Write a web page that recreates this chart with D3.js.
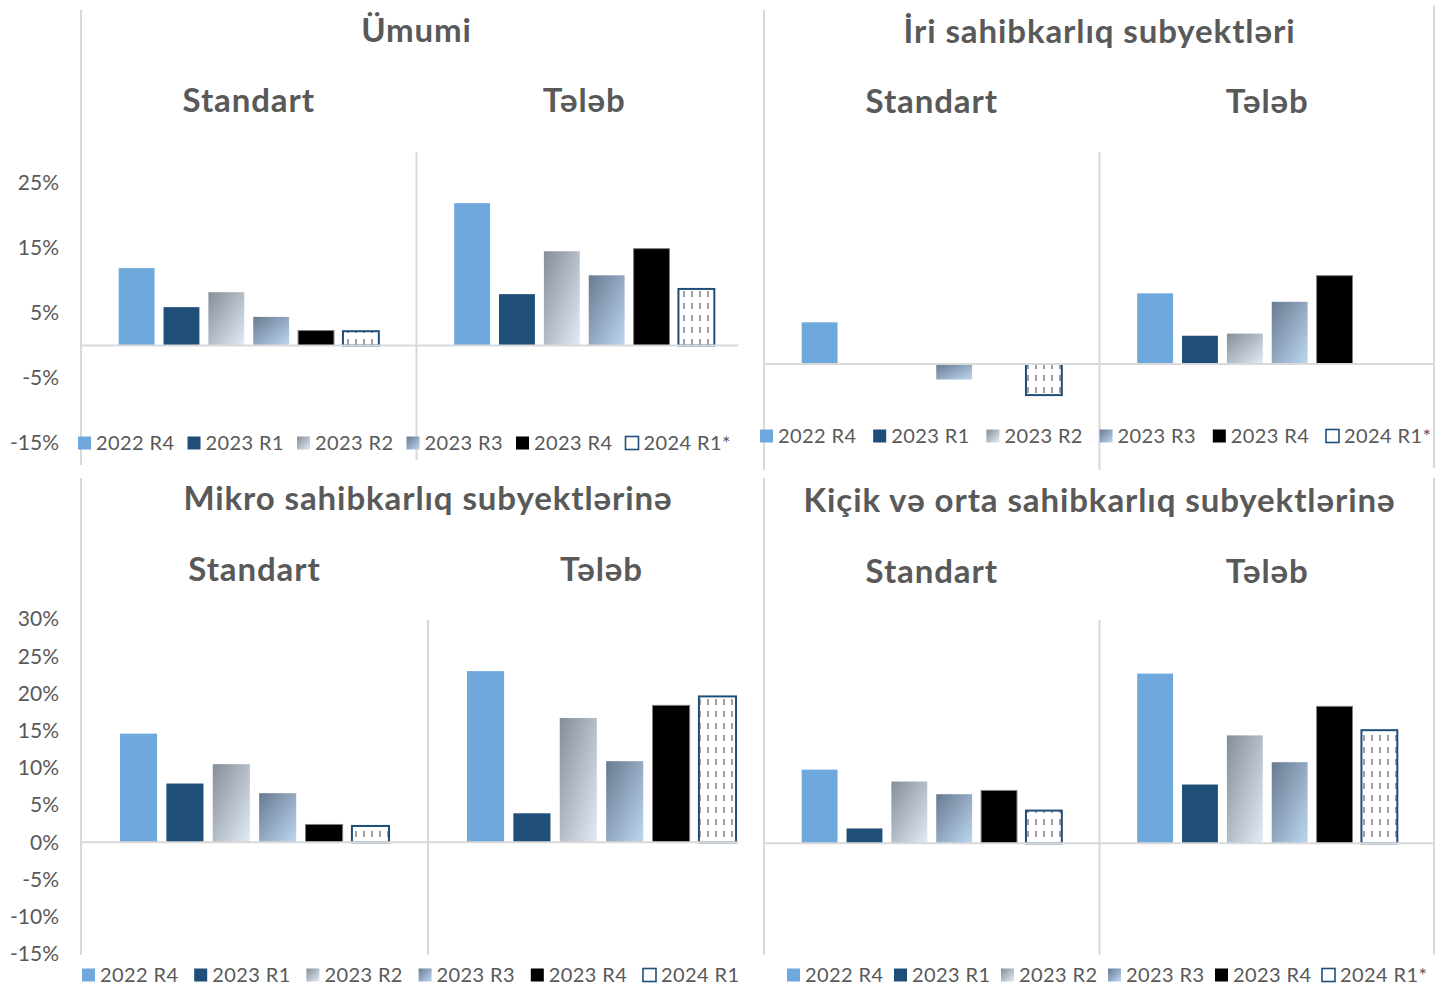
<!DOCTYPE html>
<html>
<head>
<meta charset="utf-8">
<script src="https://cdn.jsdelivr.net/npm/d3@7"></script>
<style>
  body { margin: 0; background: #fff; }
  svg { display: block; font-family: Lato, "Open Sans", "Noto Sans", sans-serif; }
  .title { font-weight: bold; fill: #595959; font-size: 33px; letter-spacing: 0.9px; }
  .tick { fill: #595959; font-size: 21px; }
  .leg { fill: #595959; font-size: 20px; letter-spacing: 0.4px; }
</style>
</head>
<body>
<div id="chart"></div>
<script>
'use strict';

// series and categories
const series = ['2022 R4', '2023 R1', '2023 R2', '2023 R3', '2023 R4', '2024 R1*'];
const seriesMikro = ['2022 R4', '2023 R1', '2023 R2', '2023 R3', '2023 R4', '2024 R1'];
const groups = ['Standart', 'Tələb'];
const titles = ['Ümumi', 'İri sahibkarlıq subyektləri', 'Mikro sahibkarlıq subyektlərinə', 'Kiçik və orta sahibkarlıq subyektlərinə'];

// tick labels (only the left panels show them)
const ticksTop = [-15, -5, 5, 15, 25];
const ticksBottom = [-15, -10, -5, 0, 5, 10, 15, 20, 25, 30];

// values in %
const umumiStandart = [11.9, 5.9, 8.2, 4.4, 2.3, 2.2];
const umumiTeleb = [21.9, 7.9, 14.5, 10.8, 14.9, 8.7];
const iriStandart = [5.9, 0, 0, -2.2, 0, -4.4];
const iriTeleb = [10.0, 4.0, 4.3, 8.8, 12.5, 0];
const mikroStandart = [14.6, 7.9, 10.5, 6.6, 2.4, 2.2];
const mikroTeleb = [23.0, 3.9, 16.7, 10.9, 18.4, 19.6];
const kicikStandart = [9.9, 2.0, 8.3, 6.6, 7.1, 4.4];
const kicikTeleb = [22.8, 7.9, 14.5, 10.9, 18.4, 15.2];

const W = 1449, H = 985;
const grid = '#d9d9d9';

const svg = d3.select('#chart').append('svg')
    .attr('width', W)
    .attr('height', H);

// fills
const defs = svg.append('defs');
function grad(id, c1, c2) {
    let g = defs.append('linearGradient').attr('id', id)
        .attr('x1', 0).attr('y1', 0).attr('x2', 1).attr('y2', 1);
    g.append('stop').attr('offset', '0%').attr('stop-color', c1);
    g.append('stop').attr('offset', '100%').attr('stop-color', c2);
}
grad('g2', '#858e98', '#e2ecf6');
grad('g3', '#687a90', '#bdd7f1');

// dashed vertical hatch for 2024 R1
let pat = defs.append('pattern').attr('id', 'dash')
    .attr('patternUnits', 'userSpaceOnUse')
    .attr('width', 8).attr('height', 12);
pat.append('rect').attr('width', 8).attr('height', 12).attr('fill', '#fff');
pat.append('line').attr('x1', 4).attr('x2', 4).attr('y1', 3).attr('y2', 9)
    .attr('stroke', '#a0a0a0').attr('stroke-width', 2);

const fills = ['#6fa8dc', '#1f4e79', 'url(#g2)', 'url(#g3)', '#000', 'url(#dash)'];
const strokes = ['none', 'none', 'none', 'none', '#7f7f7f', '#1f4e79'];
const strokeW = [0, 0, 0, 0, 1, 2];

// panel layout
const panels = [
    { title: titles[0], data: [umumiStandart, umumiTeleb], names: series,
      x: [81, 752], y: [443, 150.5], cut: 738, ticks: ticksTop,
      titleY: 42, subY: 112, axisTop: 10, axisBot: 465, sepTop: 152, sepBot: 460, right: false,
      legY: 443, legX: 77, legStep: 109.5 },
    { title: titles[1], data: [iriStandart, iriTeleb], names: series,
      x: [764, 1435], y: [470, 152], cut: 1434, ticks: null,
      titleY: 43, subY: 113, axisTop: 10, axisBot: 470, sepTop: 152, sepBot: 470, right: [5, 468],
      legY: 436, legX: 759, legStep: 113.2 },
    { title: titles[2], data: [mikroStandart, mikroTeleb], names: seriesMikro,
      x: [81, 775], y: [954, 619], cut: 738, ticks: ticksBottom,
      titleY: 510, subY: 581, axisTop: 478, axisBot: 955, sepTop: 620, sepBot: 955, right: false,
      legY: 975, legX: 81, legStep: 112.2 },
    { title: titles[3], data: [kicikStandart, kicikTeleb], names: series,
      x: [764, 1435], y: [955, 620], cut: 1434, ticks: null,
      titleY: 512, subY: 583, axisTop: 478, axisBot: 955, sepTop: 620, sepBot: 955, right: [478, 955],
      legY: 975, legX: 786, legStep: 107 }
];

panels.forEach(drawPanel);

function drawPanel(p) {
    let g = svg.append('g');

    let x0 = d3.scaleBand().domain(groups).range(p.x);
    let x1 = d3.scaleBand().domain(d3.range(series.length))
        .range([0, x0.bandwidth()])
        .paddingInner(0.2)
        .paddingOuter(0.84);
    let y = d3.scaleLinear().domain([-15, 30]).range(p.y);

    // vertical lines
    g.append('line')
        .attr('x1', p.x[0]).attr('x2', p.x[0])
        .attr('y1', p.axisTop).attr('y2', p.axisBot)
        .attr('stroke', grid).attr('stroke-width', 2);
    g.append('line')
        .attr('x1', x0('Tələb')).attr('x2', x0('Tələb'))
        .attr('y1', p.sepTop).attr('y2', p.sepBot)
        .attr('stroke', grid).attr('stroke-width', 2);
    if (p.right) {
        g.append('line')
            .attr('x1', p.cut).attr('x2', p.cut)
            .attr('y1', p.right[0]).attr('y2', p.right[1])
            .attr('stroke', grid).attr('stroke-width', 2);
    }

    // tick labels
    if (p.ticks) {
        g.selectAll('.tick')
            .data(p.ticks)
            .enter()
            .append('text')
            .attr('class', 'tick')
            .attr('x', 59)
            .attr('y', (d) => y(d))
            .attr('dy', '0.35em')
            .attr('text-anchor', 'end')
            .text((d) => d + '%');
    }

    // titles
    g.append('text')
        .attr('class', 'title')
        .attr('x', (p.x[0] + p.x[1]) / 2)
        .attr('y', p.titleY)
        .attr('text-anchor', 'middle')
        .text(p.title);
    g.selectAll('.sub')
        .data(groups)
        .enter()
        .append('text')
        .attr('class', 'title')
        .attr('x', (d) => x0(d) + x0.bandwidth() / 2)
        .attr('y', p.subY)
        .attr('text-anchor', 'middle')
        .text((d) => d);

    // bars
    groups.forEach(function(grp, gi) {
        g.selectAll('.bar' + gi)
            .data(p.data[gi].map((v, i) => ({ v: v, i: i })).filter((d) => d.v !== 0))
            .enter()
            .append('rect')
            .attr('x', (d) => x0(grp) + x1(d.i))
            .attr('width', x1.bandwidth())
            .attr('y', (d) => y(Math.max(0, d.v)))
            .attr('height', (d) => Math.abs(y(d.v) - y(0)))
            .attr('fill', (d) => fills[d.i])
            .attr('stroke', (d) => strokes[d.i])
            .attr('stroke-width', (d) => strokeW[d.i]);
    });

    // zero line
    g.append('line')
        .attr('x1', p.x[0]).attr('x2', p.cut)
        .attr('y1', y(0)).attr('y2', y(0))
        .attr('stroke', grid).attr('stroke-width', 2);

    // legend
    let leg = g.selectAll('.legitem')
        .data(p.names)
        .enter()
        .append('g')
        .attr('transform', (d, i) => 'translate(' + (p.legX + i * p.legStep) + ',' + p.legY + ')');
    leg.append('rect')
        .attr('x', 1).attr('y', -6.5)
        .attr('width', 13).attr('height', 13)
        .attr('fill', (d, i) => i === 5 ? '#fff' : fills[i])
        .attr('stroke', (d, i) => i === 5 ? '#1f4e79' : 'none')
        .attr('stroke-width', 1.6);
    leg.append('text')
        .attr('class', 'leg')
        .attr('x', 19)
        .attr('dy', '0.35em')
        .text((d) => d);
}
</script>
</body>
</html>
